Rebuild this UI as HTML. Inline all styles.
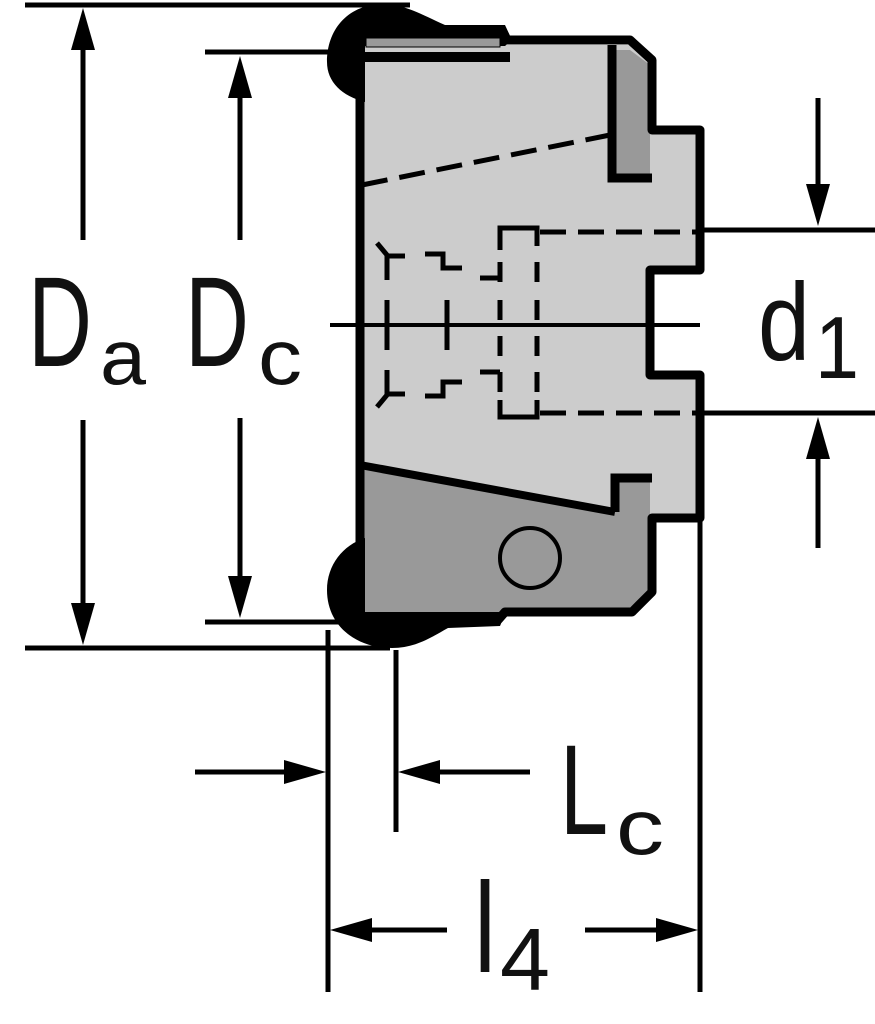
<!DOCTYPE html>
<html><head><meta charset="utf-8"><style>
html,body{margin:0;padding:0;background:#fff;width:875px;height:1024px;overflow:hidden}
svg{display:block}
text{font-family:"Liberation Sans","DejaVu Sans",sans-serif;fill:#111}
</style></head><body>
<svg width="875" height="1024" viewBox="0 0 875 1024" xmlns="http://www.w3.org/2000/svg">
<g stroke="#000" fill="none" stroke-linecap="butt">
<!-- body fills -->
<polygon points="360,45 630,45 650,62 650,130 700,130 700,270 650,270 650,375 700,375 700,518 650,518 650,475 615,475 615,512 360,465" fill="#cccccc" stroke="none"/>
<polygon points="360,465 615,512 615,478 650,478 650,590 632,610 505,610 500,620 360,620" fill="#999999" stroke="none"/>
<polygon points="612,50 630,50 650,65 650,178 612,178" fill="#999999" stroke="none"/>
<!-- outline -->
<polyline points="505,40 630,40 652,60 652,130 700,130 700,270 650,270 650,375 700,375 700,518 652,518 652,592 632,612 505,612 498,620" stroke-width="9" stroke-linejoin="round"/>
<line x1="360" y1="40" x2="360" y2="620" stroke-width="9"/>
<line x1="356" y1="57" x2="510" y2="57" stroke-width="10"/>
<polyline points="612,45 612,178 652,178" stroke-width="9"/>
<polyline points="615,512 615,478 652,478" stroke-width="9"/>
<line x1="360" y1="465" x2="615" y2="512" stroke-width="8"/>
<circle cx="530" cy="558" r="30" stroke-width="4"/>
<!-- insert blobs -->
<path d="M365,102 C342,96 327,82 327,62 C327,30 347,6 380,4 C405,4 420,14 445,25 L505,25 L512,40 L505,46 L365,46 Z" fill="#000" stroke="none"/>
<rect x="366" y="38" width="134" height="9" fill="#999"/>
<path d="M365,538 C343,545 327,565 327,590 C327,625 355,648 392,648 C415,648 430,638 448,628 L500,626 L506,612 L365,612 Z" fill="#000" stroke="none"/>
<!-- centerline -->
<line x1="330" y1="325" x2="700" y2="325" stroke-width="4"/>
<!-- dashed -->
<g stroke-width="5" stroke-dasharray="26,12">
<line x1="362" y1="185" x2="610" y2="135"/>
<line x1="540" y1="232" x2="700" y2="232"/>
<line x1="540" y1="413" x2="700" y2="413"/>
<line x1="540" y1="232" x2="700" y2="232"/>
</g>
<g stroke-width="5">
<polyline points="500,250 500,228 537,228 537,246"/>
<polyline points="500,400 500,417 537,417 537,400"/>
<path d="M500,262V282 M500,300V320 M500,336V356 M500,372V392 M537,262V282 M537,300V320 M537,336V356 M537,372V392"/>
<path d="M377,243 L387,255 V280 M387,256 H405 M425,254 H443 V268 H462 M480,278 H500"/>
<path d="M377,407 L387,395 V370 M387,394 H405 M425,396 H443 V382 H462 M480,372 H500"/>
<path d="M387,300 V350 M447,300 V350"/>
<circle cx="512" cy="325" r="2" fill="#000" stroke="none"/>
</g>
<!-- dimension lines -->
<g stroke-width="5">
<line x1="25" y1="5" x2="410" y2="5"/>
<line x1="25" y1="648" x2="390" y2="648"/>
<line x1="205" y1="52" x2="360" y2="52"/>
<line x1="205" y1="622" x2="360" y2="622"/>
<line x1="83" y1="40" x2="83" y2="240"/>
<line x1="83" y1="420" x2="83" y2="610"/>
<line x1="240" y1="90" x2="240" y2="240"/>
<line x1="240" y1="418" x2="240" y2="585"/>
<line x1="700" y1="230" x2="875" y2="230"/>
<line x1="700" y1="413" x2="875" y2="413"/>
<line x1="818" y1="98" x2="818" y2="190"/>
<line x1="818" y1="450" x2="818" y2="548"/>
<line x1="328" y1="630" x2="328" y2="992"/>
<line x1="396" y1="650" x2="396" y2="832"/>
<line x1="700" y1="520" x2="700" y2="992"/>
<line x1="195" y1="772" x2="300" y2="772"/>
<line x1="420" y1="772" x2="530" y2="772"/>
<line x1="360" y1="930" x2="447" y2="930"/>
<line x1="585" y1="930" x2="670" y2="930"/>
</g>
<!-- arrowheads -->
<g fill="#000" stroke="none">
<polygon points="83,8 71,50 95,50"/>
<polygon points="83,645 71,603 95,603"/>
<polygon points="240,56 228,98 252,98"/>
<polygon points="240,618 228,576 252,576"/>
<polygon points="818,226 806,184 830,184"/>
<polygon points="818,417 806,459 830,459"/>
<polygon points="326,772 284,760 284,784"/>
<polygon points="398,772 440,760 440,784"/>
<polygon points="330,930 372,918 372,942"/>
<polygon points="698,930 656,918 656,942"/>
</g>
</g>
<!-- labels -->
<text x="28" y="366" font-size="128" textLength="64" lengthAdjust="spacingAndGlyphs">D</text>
<text x="100" y="384" font-size="78" textLength="46" lengthAdjust="spacingAndGlyphs">a</text>
<text x="185" y="366" font-size="128" textLength="64" lengthAdjust="spacingAndGlyphs">D</text>
<text x="258" y="384" font-size="78" textLength="44" lengthAdjust="spacingAndGlyphs">c</text>
<text x="758" y="360" font-size="110" textLength="52" lengthAdjust="spacingAndGlyphs">d</text>
<text x="815" y="378" font-size="88" textLength="44" lengthAdjust="spacingAndGlyphs">1</text>
<text x="560" y="834" font-size="128" textLength="48" lengthAdjust="spacingAndGlyphs">L</text>
<text x="616" y="854" font-size="78" textLength="48" lengthAdjust="spacingAndGlyphs">c</text>
<text x="474" y="972" font-size="128" textLength="22" lengthAdjust="spacingAndGlyphs">l</text>
<text x="500" y="990" font-size="88" textLength="50" lengthAdjust="spacingAndGlyphs">4</text>
</svg>
</body></html>
